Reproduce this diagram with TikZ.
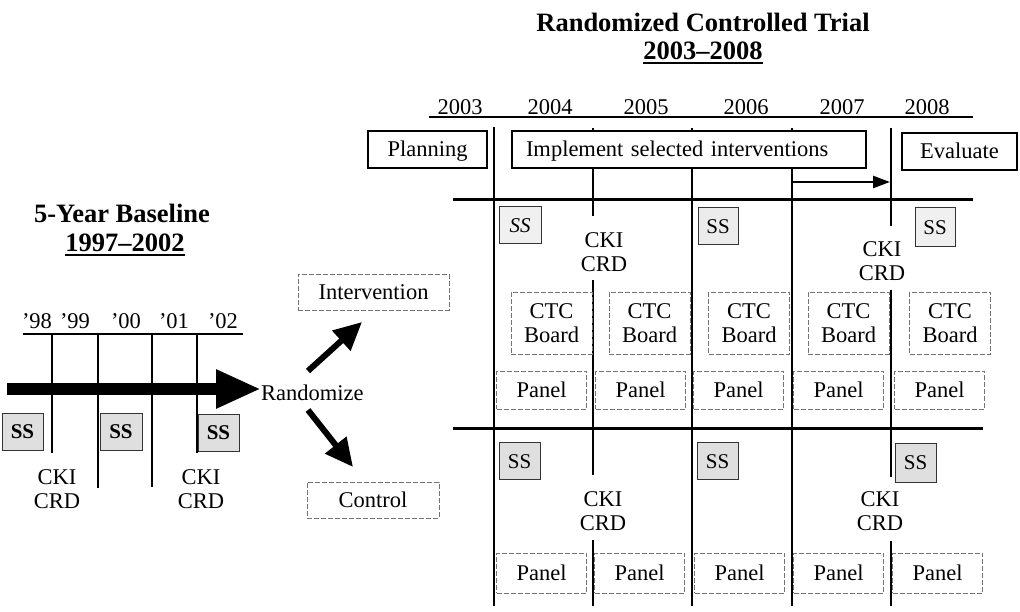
\documentclass[tikz,border=0pt]{standalone}
\usepackage{fontspec}
\setmainfont{Liberation Serif}
\usetikzlibrary{arrows.meta}
\begin{document}
\begin{tikzpicture}[x=1pt,y=-1pt,
  every node/.style={font=\fontsize{22.5}{24}\selectfont},
  titletext/.style={font=\fontsize{26.5}{30}\selectfont\bfseries, anchor=base, inner sep=0pt},
  yeartext/.style={anchor=base, inner sep=0pt},
  solidbox/.style={draw=black, line width=1.4pt, fill=white, minimum height=37pt, inner sep=0pt, text height=15pt, text depth=0pt},
  dbox/.style={draw=black!55, line width=0.8pt, dash pattern=on 5pt off 2pt, fill=white, inner sep=0pt},
  onel/.style={text height=15pt, text depth=0pt},
  ssbox/.style={draw=black!80, line width=1pt, fill=gray!25, minimum width=41pt, minimum height=37pt, inner sep=0pt, text height=14pt, text depth=0pt, font=\fontsize{21}{24}\selectfont},
  ckitext/.style={align=center, inner sep=0pt},
  vline/.style={line width=1.6pt},
  hthick/.style={line width=3pt},
]
\useasboundingbox[fill=white] (0,0) rectangle (1020,612);

% ---------- titles ----------
\node[titletext] (rtitle) at (703,32) {Randomized Controlled Trial};
\node[titletext] (rsub) at (703,60) {2003–2008};
\draw[line width=1.3pt] ([yshift=-3pt]rsub.base west) -- ([yshift=-3pt]rsub.base east);
\node[titletext] (ltitle) at (122,223) {5-Year Baseline};
\node[titletext] (lsub) at (125,252) {1997–2002};
\draw[line width=1.3pt] ([yshift=-3pt]lsub.base west) -- ([yshift=-3pt]lsub.base east);

% ---------- baseline timeline ----------
\node[yeartext] (b98) at (37,329) {’98};
\node[yeartext] (b99) at (75,329) {’99};
\node[yeartext] (b00) at (126,329) {’00};
\node[yeartext] (b01) at (174,329) {’01};
\node[yeartext] (b02) at (223,329) {’02};
\draw[line width=2pt] (23,334) -- (243,334);
\draw[vline] (52,334) -- (52,453);
\draw[vline] (98,334) -- (98,488);
\draw[vline] (152,334) -- (152,487);
\draw[vline] (197,334) -- (197,453);

\node[ssbox, font=\fontsize{21}{24}\selectfont\bfseries] (lss1) at (22.5,431.5) {SS};
\node[ssbox, font=\fontsize{21}{24}\selectfont\bfseries, minimum width=42pt] (lss2) at (121,431.5) {SS};
\node[ssbox, font=\fontsize{21}{24}\selectfont\bfseries] (lss3) at (218.5,432.5) {SS};
\node[ckitext] (lcki1) at (57,489.5) {CKI\\CRD};
\node[ckitext] (lcki2) at (201,489.5) {CKI\\CRD};

% ---------- randomize ----------
\node[anchor=base west, inner sep=0pt] (rand) at (261,400) {Randomize};
\coordinate (bstart) at (7,389);
\draw[line width=12pt, -{Triangle[length=45pt,width=36pt]}] (bstart) -- (bstart -| rand.west);

\node[dbox, onel, minimum width=151pt, minimum height=36pt] (interv) at (373.5,292) {Intervention};
\node[dbox, onel, minimum width=132pt, minimum height=36pt] (control) at (373,500) {Control};
\coordinate (upS) at (308,371);
\coordinate (upE) at (362,322);
\coordinate (dnS) at (308,410);
\coordinate (dnE) at (353,467);
\draw[line width=6pt, -{Triangle[length=28pt,width=26pt]}] (upS) -- (upE);
\draw[line width=6pt, -{Triangle[length=28pt,width=26pt]}] (dnS) -- (dnE);

% ---------- trial header ----------
\node[yeartext] (y03) at (460,115) {2003};
\node[yeartext] (y04) at (550,115) {2004};
\node[yeartext] (y05) at (646,115) {2005};
\node[yeartext] (y06) at (746,115) {2006};
\node[yeartext] (y07) at (842,115) {2007};
\node[yeartext] (y08) at (927,115) {2008};
\draw[line width=1.5pt] (429,117) -- (973,117);

% vertical year separators
\draw[vline] (494,127) -- (494,606);
\draw[vline] (593,128) -- (593,216);
\draw[vline] (593,280) -- (593,475);
\draw[vline] (593,540) -- (593,606);
\draw[vline] (692,128) -- (692,606);
\draw[vline] (792,128) -- (792,606);
\draw[vline] (891,128) -- (891,226);
\draw[vline] (891,290) -- (891,477);
\draw[vline] (891,541) -- (891,606);

\node[solidbox, minimum width=119pt] (plan) at (427.5,149.5) {Planning};
\node[solidbox, minimum width=354pt, text width=326pt, align=left, inner xsep=14pt] (impl) at (689,149.5) {Implement selected interventions};
\node[solidbox, minimum width=115pt] (eval) at (959.5,151.5) {Evaluate};
\coordinate (sarS) at (793,182);
\coordinate (sarE) at (890,182);
\draw[line width=2.5pt, -{Triangle[length=17pt,width=12pt]}] (sarS) -- (sarE);

% horizontal group separators
\draw[hthick] (453,200) -- (973,200);
\draw[hthick] (453,428) -- (983,428);

% ---------- intervention group ----------
\node[ssbox, fill=gray!12, minimum width=42pt, font=\fontsize{21}{24}\selectfont\itshape] (iss1) at (520,225.5) {SS};
\node[ssbox, fill=gray!15, minimum width=40pt] (iss2) at (718,226.5) {SS};
\node[ssbox, fill=gray!12, minimum width=40pt, minimum height=39pt] (iss3) at (935,227.5) {SS};
\node[ckitext] (icki1) at (604,252.5) {CKI\\CRD};
\node[ckitext] (icki2) at (882,261.5) {CKI\\CRD};

\foreach \x [count=\i] in {551.5,649.5,749,848.5,950} {
  \node[dbox, align=center, minimum width=81pt, minimum height=62pt] (ctc\i) at (\x,323) {CTC\\Board};
}
\foreach \x [count=\i] in {541.5,640.5,738.5,838.5,939.5} {
  \node[dbox, onel, minimum width=90pt, minimum height=38pt] (ipan\i) at (\x,390) {Panel};
}

% ---------- control group ----------
\node[ssbox] (css1) at (519.5,461) {SS};
\node[ssbox] (css2) at (717.5,461) {SS};
\node[ssbox, minimum height=39pt] (css3) at (915.5,462.5) {SS};
\node[ckitext] (ccki1) at (603,511.5) {CKI\\CRD};
\node[ckitext] (ccki2) at (880,511.5) {CKI\\CRD};
\foreach \x [count=\i] in {541.5,639.5,739.5,838.5,937.5} {
  \node[dbox, onel, minimum width=90pt, minimum height=40pt] (cpan\i) at (\x,573) {Panel};
}
\end{tikzpicture}
\end{document}
